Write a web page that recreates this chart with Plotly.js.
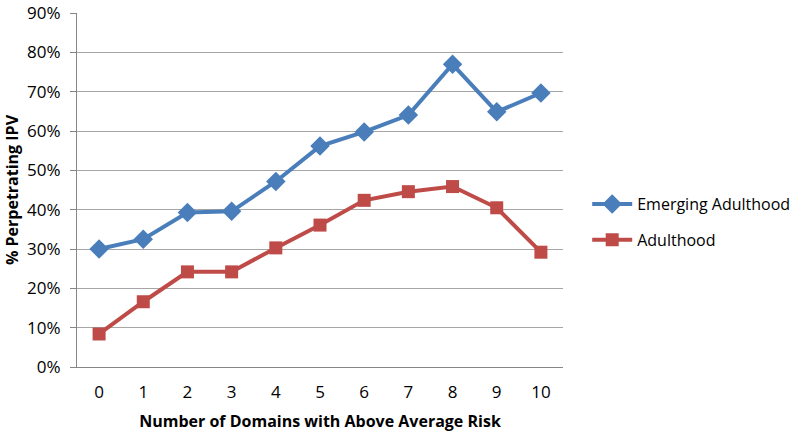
<!DOCTYPE html>
<html>
<head>
<meta charset="utf-8">
<script src="https://cdn.plot.ly/plotly-3.0.1.min.js"></script>
<style>html,body{margin:0;padding:0;background:#fff;}#chart{width:800px;height:432px;}</style>
</head>
<body>
<div id="chart"></div>
<script>
const categories = ["0","1","2","3","4","5","6","7","8","9","10"];
const emergingAdulthood = [0.30, 0.325, 0.393, 0.396, 0.472, 0.562, 0.598, 0.641, 0.770, 0.649, 0.697];
const adulthood = [0.084, 0.166, 0.242, 0.242, 0.303, 0.361, 0.424, 0.446, 0.459, 0.405, 0.292];
const yTickVals = [0,0.1,0.2,0.3,0.4,0.5,0.6,0.7,0.8,0.9];
const yTickText = ["0%","10%","20%","30%","40%","50%","60%","70%","80%","90%"];

const font = "Open Sans, Liberation Sans, sans-serif";
const traces = [
  {x: categories, y: emergingAdulthood, name: "Emerging Adulthood", legendgroup: "a", type: "scatter", mode: "lines+markers",
   line: {color: "#4A7EBB", width: 4}, marker: {symbol: "diamond", size: 15, color: "#4A7EBB"}},
  {x: categories, y: adulthood, name: "Adulthood", legendgroup: "b", type: "scatter", mode: "lines+markers",
   line: {color: "#BE4B48", width: 4}, marker: {symbol: "square", size: 13, color: "#BE4B48"}}
];
const layout = {
  width: 800, height: 432,
  margin: {l: 77, r: 237, t: 13, b: 65},
  paper_bgcolor: "#fff", plot_bgcolor: "#fff",
  font: {family: font, size: 16, color: "#000"},
  showlegend: true,
  legend: {xref: "container", yref: "container", x: 0.734, y: 0.486, xanchor: "left", yanchor: "middle",
    font: {size: 16, color: "#000"}, traceorder: "grouped", tracegroupgap: 12, itemwidth: 40},
  xaxis: {type: "category", range: [-0.5, 10.5], showgrid: false, showline: true, linecolor: "#868686", linewidth: 1,
    ticks: "", tickfont: {size: 17}, zeroline: false, ticklabelstandoff: 10,
    title: {text: "<b>Number of Domains with Above Average Risk</b>", font: {size: 16}, standoff: 14}},
  yaxis: {range: [0, 0.9005], tickvals: yTickVals, ticktext: yTickText, showgrid: true, gridcolor: "#A6A6A6", gridwidth: 1,
    showline: true, linecolor: "#868686", ticks: "outside", ticklen: 6, tickcolor: "#868686", tickfont: {size: 17}, zeroline: false,
    ticklabeloverflow: "allow", ticklabelstandoff: 6,
    title: {text: "<b>% Perpetrating IPV</b>", font: {size: 16}, standoff: 4}}
};
Plotly.newPlot("chart", traces, layout, {displayModeBar: false, staticPlot: true});
</script>
</body>
</html>
